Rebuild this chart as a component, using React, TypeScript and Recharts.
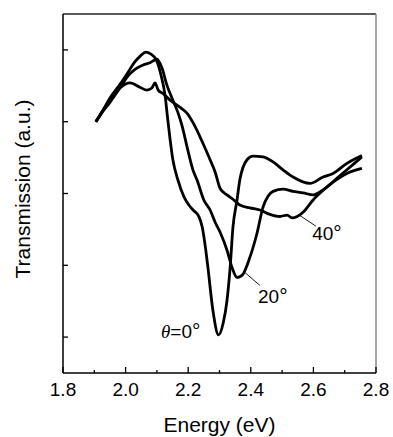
import { LineChart, Line, XAxis, YAxis, ReferenceLine, ReferenceDot } from "recharts";

// theta = 0 deg
const energy0 = [1.905, 1.928, 1.95, 1.982, 2.008, 2.027, 2.046, 2.065, 2.081, 2.097, 2.113, 2.126, 2.135, 2.151, 2.167, 2.187, 2.202, 2.218, 2.234, 2.245, 2.255, 2.263, 2.279, 2.297, 2.312, 2.324, 2.334, 2.343, 2.356, 2.365, 2.388, 2.407, 2.439, 2.471, 2.503, 2.535, 2.589, 2.631, 2.663, 2.707, 2.755];
const trans0 = [4.0, 4.16, 4.33, 4.52, 4.69, 4.82, 4.91, 4.97, 4.94, 4.87, 4.65, 4.37, 4.02, 3.47, 3.19, 2.95, 2.84, 2.76, 2.68, 2.53, 2.25, 1.97, 1.37, 1.03, 1.2, 1.51, 1.97, 2.53, 2.91, 3.19, 3.47, 3.52, 3.51, 3.44, 3.33, 3.23, 3.14, 3.23, 3.28, 3.42, 3.53];

// theta = 20 deg
const energy20 = [1.905, 1.925, 1.95, 1.982, 2.008, 2.03, 2.056, 2.078, 2.1, 2.116, 2.132, 2.151, 2.167, 2.18, 2.199, 2.215, 2.228, 2.25, 2.27, 2.286, 2.302, 2.324, 2.34, 2.356, 2.372, 2.397, 2.42, 2.439, 2.455, 2.471, 2.503, 2.535, 2.567, 2.599, 2.631, 2.663, 2.707, 2.755];
const trans20 = [4.0, 4.13, 4.27, 4.47, 4.64, 4.73, 4.79, 4.82, 4.87, 4.75, 4.51, 4.3, 4.13, 3.95, 3.6, 3.33, 3.19, 2.91, 2.77, 2.6, 2.46, 2.21, 1.97, 1.83, 1.86, 2.11, 2.45, 2.81, 2.96, 3.03, 3.06, 3.03, 3.01, 2.98, 3.05, 3.16, 3.28, 3.35];

// theta = 40 deg
const energy40 = [1.905, 1.928, 1.95, 1.982, 2.014, 2.046, 2.068, 2.084, 2.094, 2.104, 2.12, 2.142, 2.174, 2.196, 2.215, 2.247, 2.27, 2.286, 2.302, 2.324, 2.343, 2.365, 2.397, 2.429, 2.461, 2.493, 2.516, 2.532, 2.548, 2.567, 2.599, 2.643, 2.675, 2.707, 2.755];
const trans40 = [4.0, 4.16, 4.3, 4.47, 4.54, 4.48, 4.44, 4.47, 4.54, 4.44, 4.39, 4.3, 4.2, 4.12, 3.99, 3.7, 3.47, 3.3, 3.07, 2.98, 2.92, 2.84, 2.8, 2.77, 2.71, 2.68, 2.7, 2.66, 2.68, 2.74, 2.91, 3.09, 3.21, 3.33, 3.51];

const xTicks = [1.8, 1.9, 2.0, 2.1, 2.2, 2.3, 2.4, 2.5, 2.6, 2.7, 2.8];
const yTicks = [1, 2, 3, 4, 5];

const toRows = (xs: number[], ys: number[]) => xs.map((x, i) => ({ x, y: ys[i] }));
const d0 = toRows(energy0, trans0);
const d20 = toRows(energy20, trans20);
const d40 = toRows(energy40, trans40);

const FONT = "'Liberation Sans', Arial, sans-serif";

const XTick = (props: any) => {
  const { x, y, payload } = props;
  const major = Math.round(payload.value * 10) % 2 === 0;
  return (
    <g>
      <line x1={x} y1={y} x2={x} y2={y - (major ? 6 : 3)} stroke="#000" strokeWidth={1.3} />
      {major && (
        <text x={x} y={y + 23} textAnchor="middle" fontFamily={FONT} fontSize={19} fill="#000">
          {payload.value.toFixed(1)}
        </text>
      )}
    </g>
  );
};

const YTick = (props: any) => {
  const { x, y } = props;
  return <line x1={x} y1={y} x2={x + 5} y2={y} stroke="#000" strokeWidth={1.3} />;
};

const Note = ({ cx, cy, label, theta }: any) => (
  <text x={cx} y={cy} fontFamily={FONT} fontSize={19} fill="#000">
    {theta && <tspan fontFamily="'Liberation Serif', serif" fontStyle="italic">θ</tspan>}
    {theta ? "=" : ""}
    {label}
    <tspan fontSize={21}>°</tspan>
  </text>
);

export default function App() {
  return (
    <div style={{ position: "absolute", left: 0, top: 0, background: "#fff" }}>
      <LineChart width={393} height={437} margin={{ top: 14, right: 17, left: 0, bottom: 0 }}>
        <XAxis
          type="number"
          dataKey="x"
          domain={[1.8, 2.8]}
          ticks={xTicks}
          allowDataOverflow
          height={64}
          tickSize={0}
          tickMargin={0}
          tickLine={false}
          tick={<XTick />}
          axisLine={{ stroke: "#000", strokeWidth: 1.5 }}
          label={{
            content: ({ viewBox }: any) => (
              <text x={viewBox.x + viewBox.width / 2} y={432} textAnchor="middle" fontFamily={FONT} fontSize={21} fill="#000">
                Energy (eV)
              </text>
            ),
          }}
        />
        <YAxis
          type="number"
          domain={[0.5, 5.5]}
          ticks={yTicks}
          allowDataOverflow
          width={63}
          tickSize={0}
          tickMargin={0}
          tickLine={false}
          tick={<YTick />}
          axisLine={{ stroke: "#000", strokeWidth: 1.5 }}
          label={{
            content: () => (
              <text x={30} y={189} transform="rotate(-90, 30, 189)" textAnchor="middle" fontFamily={FONT} fontSize={21} fill="#000">
                Transmission (a.u.)
              </text>
            ),
          }}
        />
        <ReferenceLine y={5.5} stroke="#222" strokeWidth={1.3} />
        <ReferenceLine x={2.8} stroke="#888" strokeWidth={1.5} />

        <Line data={d0} dataKey="y" type="monotone" stroke="#000" strokeWidth={2.8} dot={false} isAnimationActive={false} />
        <Line data={d20} dataKey="y" type="monotone" stroke="#000" strokeWidth={2.8} dot={false} isAnimationActive={false} />
        <Line data={d40} dataKey="y" type="monotone" stroke="#000" strokeWidth={2.8} dot={false} isAnimationActive={false} />

        <ReferenceLine segment={[{ x: 2.381, y: 1.9 }, { x: 2.429, y: 1.72 }]} stroke="#000" strokeWidth={0.9} />
        <ReferenceLine segment={[{ x: 2.551, y: 2.71 }, { x: 2.608, y: 2.545 }]} stroke="#000" strokeWidth={0.9} />

        <ReferenceDot x={2.113} y={0.984} r={0} shape={(p: any) => <Note {...p} label="0" theta />} />
        <ReferenceDot x={2.423} y={1.472} r={0} shape={(p: any) => <Note {...p} label="20" />} />
        <ReferenceDot x={2.596} y={2.35} r={0} shape={(p: any) => <Note {...p} label="40" />} />
      </LineChart>
    </div>
  );
}
